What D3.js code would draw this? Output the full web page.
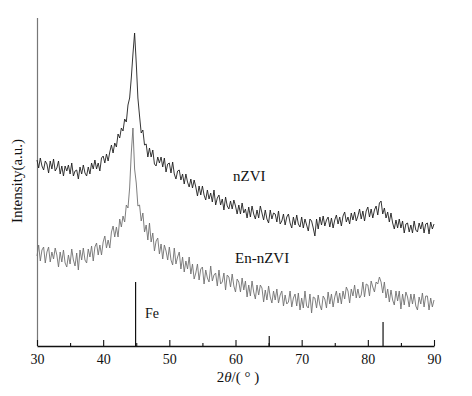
<!DOCTYPE html>
<html>
<head>
<meta charset="utf-8">
<script src="https://cdn.jsdelivr.net/npm/d3@7"></script>
<style>
  body { margin: 0; background: #fff; }
  svg text { font-family: "Liberation Serif", "Times New Roman", Times, serif !important; }
</style>
</head>
<body>
<div id="xrd"></div>
<script>
// scan settings (2theta, degrees)
var scanStart = 30, scanStep = 0.25;

// nZVI pattern, one value per step (a.u.)
var nZVI = [
  186,178,188,180, 176,185,182,173, 185,177,187,175, 178,185,172,180,
  170,180,175,181, 172,183,170,175, 176,167,179,172, 181,173,170,179,
  172,183,177,186, 177,183,175,188, 190,183,192,185, 194,201,193,203,
  199,212,208,218, 215,227,224,241, 248,268,292,313, 283,248,230,213,
  216,201,202,189, 198,189,196,182, 180,189,183,189, 179,188,174,182,
  183,173,184,172, 167,175,176,166, 172,162,172,164, 159,167,158,166,
  159,150,160,151, 160,151,146,156, 147,153,144,156, 141,148,151,141,
  147,136,149,140, 137,145,137,146, 140,132,141,132, 143,133,137,128,
  139,129,140,132, 127,136,128,140, 133,126,136,127, 123,136,127,133,
  132,124,135,122, 125,132,121,129, 132,123,118,129, 121,131,122,119,
  129,118,127,121, 115,127,125,118, 110,127,117,129, 121,130,120,126,
  129,119,128,118, 126,131,122,129, 120,130,134,124, 129,122,133,126,
  134,125,130,137, 127,135,125,135, 139,129,137,128, 136,140,131,143,
  145,132,138,128, 134,124,133,123, 117,126,118,127, 118,125,113,122,
  123,114,121,113, 125,116,114,123, 117,124,113,122, 123,112,124,117,
  122
];

// En-nZVI pattern, same steps (a.u.)
var enNZVI = [
   90,101, 85, 96,  99, 83, 94, 99,  84, 94, 87, 98,  91, 79, 94, 84,
   96, 83, 79, 91,  82, 97, 86, 80,  93, 76, 96, 86,  98, 86, 83, 97,
   89,100, 85, 99, 103, 91,101, 91, 104,110, 98,106,  98,114,120,109,
  119,109,127,119, 130,124,141,138, 158,193,218,177, 163,140,141,125,
  133,114,121,106, 123,104,113, 95, 105,108, 92,102,  87,101, 95, 86,
   99, 86, 81, 98,  82, 89, 94, 77,  89, 74, 85, 77,  89, 72, 82, 67,
   73, 82, 66, 77,  79, 62, 76, 68,  64, 80, 65, 71,  73, 60, 76, 62,
   64, 73, 56, 71,  69, 59, 72, 60,  54, 67, 64, 54,  68, 56, 65, 49,
   61, 50, 65, 54,  47, 61, 51, 61,  58, 44, 56, 46,  60, 49, 43, 55,
   46, 57, 43, 51,  55, 40, 51, 42,  44, 55, 39, 48,  52, 40, 53, 36,
   48, 38, 55, 40,  38, 52, 33, 49,  48, 38, 51, 41,  36, 50, 47, 38,
   54, 42, 52, 39,  49, 55, 43, 53,  42, 55, 47, 59,  55, 43, 57, 50,
   61, 48, 57, 48,  51, 64, 49, 62,  61, 50, 65, 59,  54, 64, 62, 69,
   64, 53, 64, 48,  57, 44, 56, 46,  41, 55, 45, 55,  37, 52, 41, 54,
   49, 39, 52, 42,  52, 40, 36, 49,  42, 53, 39, 50,  50, 36, 48, 39,
   46
];

// Fe reference sticks
var feAngles = [44.9, 65.1, 82.3];
var feHeights = [64, 10, 24];

// axis ticks and labels
var majorTicks = [30, 40, 50, 60, 70, 80, 90];
var minorTicks = [35, 45, 55, 65, 75, 85];
var seriesLabels = ["nZVI", "En-nZVI"];

var serif = "'Liberation Serif', 'Times New Roman', Times, serif";
var width = 472, height = 396;
var svg = d3.select("#xrd")
  .append("svg")
    .attr("width", width)
    .attr("height", height)
    .attr("font-family", serif);

var x = d3.scaleLinear()
  .domain([30, 90])
  .range([37, 434]);

var y = d3.scaleLinear()
  .domain([0, 328])
  .range([346, 18]);

var angles = nZVI.map(function(d, i) { return scanStart + i * scanStep; });

// left axis, line only
svg.append("line")
  .attr("x1", 37.5).attr("x2", 37.5)
  .attr("y1", y(328)).attr("y2", y(0))
  .attr("stroke", "#777")
  .attr("stroke-width", 1.2);

// bottom axis, ticks pointing inside
var xAxis = svg.append("g")
  .attr("transform", "translate(0," + y(0) + ")")
  .call(d3.axisBottom(x).tickValues(majorTicks).tickSize(-6).tickSizeOuter(0).tickPadding(8));
xAxis.attr("font-family", serif);
xAxis.select(".domain").attr("stroke", "#111").attr("stroke-width", 1.3);
xAxis.selectAll(".tick line").attr("stroke", "#111").attr("stroke-width", 1.1);
xAxis.selectAll(".tick text")
  .attr("fill", "#111")
  .style("font-size", "14px")
  .style("font-family", serif);

var xMinor = svg.append("g")
  .attr("transform", "translate(0," + y(0) + ")")
  .call(d3.axisBottom(x).tickValues(minorTicks).tickSize(-3).tickFormat(""));
xMinor.select(".domain").remove();
xMinor.selectAll(".tick line").attr("stroke", "#111").attr("stroke-width", 1.1);

// x axis title
var xTitle = svg.append("text")
  .attr("x", 238)
  .attr("y", 382)
  .attr("text-anchor", "middle")
  .style("font-size", "15px")
  .style("font-family", serif)
  .attr("fill", "#111");
xTitle.append("tspan").text("2");
xTitle.append("tspan").style("font-style", "italic").text("\u03b8");
xTitle.append("tspan").text("/( \u00b0 )");

// y axis title
svg.append("text")
  .attr("transform", "translate(22,181) rotate(-90)")
  .attr("text-anchor", "middle")
  .style("font-size", "15px")
  .style("font-family", serif)
  .attr("fill", "#111")
  .text("Intensity(a.u.)");

// line generator
var line = d3.line()
  .x(function(d, i) { return x(angles[i]); })
  .y(function(d) { return y(d); });

svg.append("path")
  .datum(enNZVI)
  .attr("fill", "none")
  .attr("stroke", "#707070")
  .attr("stroke-width", 0.9)
  .attr("d", line);

svg.append("path")
  .datum(nZVI)
  .attr("fill", "none")
  .attr("stroke", "#1e1e1e")
  .attr("stroke-width", 0.9)
  .attr("d", line);

// Fe sticks
svg.selectAll(".fe")
  .data(feAngles)
  .enter()
  .append("line")
    .attr("class", "fe")
    .attr("x1", function(d) { return x(d); })
    .attr("x2", function(d) { return x(d); })
    .attr("y1", y(0))
    .attr("y2", function(d, i) { return y(feHeights[i]); })
    .attr("stroke", "#111")
    .attr("stroke-width", 1.2);

// labels
svg.append("text").attr("x", 145).attr("y", 318)
  .style("font-size", "14px").style("font-family", serif).attr("fill", "#111").text("Fe");
svg.append("text").attr("x", 233).attr("y", 181)
  .style("font-size", "15px").style("font-family", serif).attr("fill", "#111").text(seriesLabels[0]);
svg.append("text").attr("x", 235).attr("y", 263)
  .style("font-size", "15px").style("font-family", serif).attr("fill", "#111").text(seriesLabels[1]);
</script>
</body>
</html>
